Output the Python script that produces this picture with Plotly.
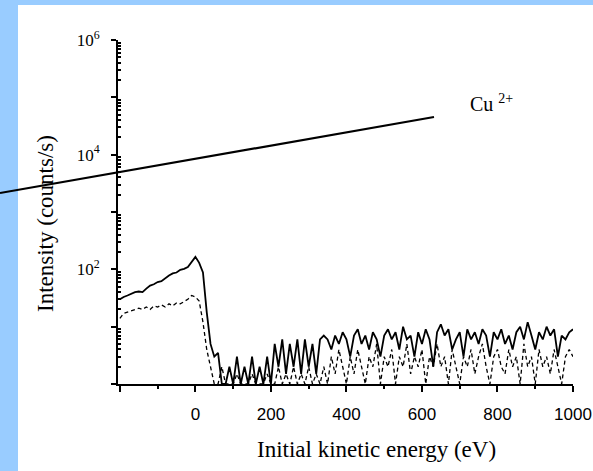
import plotly.graph_objects as go

# ---------------- data ----------------
energy_eV = list(range(-200, 1001, 10))

solid_counts = [
    30, 33, 35, 38, 40, 41, 40, 46, 52, 55,          # -200 .. -110
    60, 62, 70, 78, 85, 88, 98, 102, 110, 135,       # -100 .. -10
    165, 130, 88, 18, 5, 3, 3.5, 1, 1, 2,            # 0 .. 90
    1, 3, 1, 2, 1, 3, 1, 2, 1, 3,                    # 100 .. 190
    1, 5, 2, 6, 1.5, 5, 2, 6, 1.5, 6,                # 200 .. 290
    2, 5, 1.5, 6, 7, 6, 4, 7, 5, 8,                  # 300 .. 390
    6, 3, 7, 9, 5, 7, 4, 8, 6, 3,                    # 400 .. 490
    7, 9, 6, 8, 4, 10, 6, 7, 3, 8,                   # 500 .. 590
    5, 9, 6, 2, 8, 11, 7, 9, 4, 6,                   # 600 .. 690
    8, 3, 9, 6, 8, 5, 9, 7, 3, 8,                    # 700 .. 790
    6, 9, 5, 7, 4, 8, 10, 6, 12, 7,                  # 800 .. 890
    4, 8, 6, 10, 7, 9, 3, 7, 6, 8,                   # 900 .. 990
    9,                                               # 1000
]

dashed_counts = [
    14, 17, 18, 19, 20, 21, 20, 22, 20, 23,          # -200 .. -110
    22, 24, 22, 25, 23, 26, 25, 27, 30, 35,          # -100 .. -10
    33, 28, 12, 4, 2, 1, 1, 2, 1, 1,                 # 0 .. 90
    1, 1.5, 1, 1, 1, 1.5, 1, 1, 1, 1.5,              # 100 .. 190
    1, 1, 2, 1, 1.5, 1, 2, 1, 1.5, 1,                # 200 .. 290
    2, 1, 1.5, 1, 2, 1, 3, 1.5, 4, 2,                # 300 .. 390
    1, 3, 1.5, 4, 2, 1, 3, 2, 5, 1,                  # 400 .. 490
    3, 2, 4, 1, 3, 2, 5, 1.5, 3, 2,                  # 500 .. 590
    4, 1, 3, 2, 5, 2, 3, 1, 4, 2,                    # 600 .. 690
    1, 3, 2, 4, 1.5, 3, 5, 2, 1, 3,                  # 700 .. 790
    4, 2, 1.5, 4, 2, 3, 1, 5, 2, 3,                  # 800 .. 890
    1, 4, 2, 3, 1.5, 4, 2, 1, 3, 4,                  # 900 .. 990
    3,                                               # 1000
]

x_tick_vals = [-200, 0, 200, 400, 600, 800, 1000]
x_tick_text = ["", "0", "200", "400", "600", "800", "1000"]
x_minor_vals = [-100, 100, 300, 500, 700, 900]

y_tick_vals = [1, 10, 100, 1e3, 1e4, 1e5, 1e6]
y_tick_text = ["", "", "10<sup>2</sup>", "", "10<sup>4</sup>", "", "10<sup>6</sup>"]

x_title = "Initial kinetic energy (eV)"
y_title = "Intensity (counts/s)"
ion_label = "Cu <sup>2+</sup>"

# ---------------- layout constants (pixels) ----------------
W, H = 593, 471
PL, PR, PT, PB = 118, 573, 40, 384   # plot area edges


def px(xp):
    return (xp - PL) / (PR - PL)


def py(yp):
    return (PB - yp) / (PB - PT)


serif = "Liberation Serif, Times New Roman, serif"
sans = "Liberation Sans Narrow, Liberation Sans, Arial, sans-serif"

fig = go.Figure()
fig.add_trace(go.Scatter(
    x=energy_eV, y=solid_counts, mode="lines",
    line=dict(color="black", width=1.8), showlegend=False,
))
fig.add_trace(go.Scatter(
    x=energy_eV, y=dashed_counts, mode="lines",
    line=dict(color="black", width=1.3, dash="4px,3px"), showlegend=False,
))

y_minor = [m * 10 ** d for d in range(6) for m in range(2, 10)]

fig.update_layout(
    width=W, height=H,
    margin=dict(l=PL, r=W - PR, t=PT, b=H - PB, pad=0, autoexpand=False),
    paper_bgcolor="#99CCFF",
    plot_bgcolor="white",
    showlegend=False,
    xaxis=dict(
        range=[-205, 1000], showgrid=False, zeroline=False, automargin=False,
        showline=True, linecolor="black", linewidth=2,
        tickmode="array", tickvals=x_tick_vals, ticktext=x_tick_text,
        ticks="outside", ticklen=6, tickwidth=2, tickcolor="black",
        ticklabelstandoff=8,
        tickfont=dict(family=sans, size=17, color="black"),
        minor=dict(tickmode="array", tickvals=x_minor_vals, ticks="outside",
                   ticklen=3, tickwidth=2, tickcolor="black"),
    ),
    yaxis=dict(
        type="log", range=[0, 6], showgrid=False, zeroline=False, automargin=False,
        showline=True, linecolor="black", linewidth=2,
        tickmode="array", tickvals=y_tick_vals, ticktext=y_tick_text,
        ticks="outside", ticklen=5, tickwidth=2, tickcolor="black",
        ticklabelstandoff=8,
        tickfont=dict(family=serif, size=17, color="black"),
        minor=dict(tickmode="array", tickvals=y_minor, ticks="inside",
                   ticklen=3, tickwidth=1.5, tickcolor="black"),
    ),
    shapes=[
        dict(type="rect", xref="paper", yref="paper",
             x0=px(18), x1=px(W + 5), y0=py(H + 5), y1=py(5),
             fillcolor="white", line=dict(width=0), layer="below"),
        dict(type="line", xref="paper", yref="paper",
             x0=px(0), y0=py(193), x1=px(434), y1=py(117),
             line=dict(color="black", width=2.2)),
    ],
    annotations=[
        dict(text=x_title, xref="paper", yref="paper", x=px(376), y=py(450),
             showarrow=False, xanchor="center", yanchor="middle",
             font=dict(family=serif, size=23, color="black")),
        dict(text=y_title, xref="paper", yref="paper", x=px(45), y=py(224),
             showarrow=False, xanchor="center", yanchor="middle", textangle=-90,
             font=dict(family=serif, size=23, color="black")),
        dict(text=ion_label, xref="paper", yref="paper", x=px(468), y=py(103),
             showarrow=False, xanchor="left", yanchor="middle",
             font=dict(family=serif, size=20, color="black")),
    ],
)

fig.write_html(
    "out.html",
    config={"displayModeBar": False},
    post_script="document.body.style.margin='0';"
                "document.body.style.background='#99CCFF';",
)
